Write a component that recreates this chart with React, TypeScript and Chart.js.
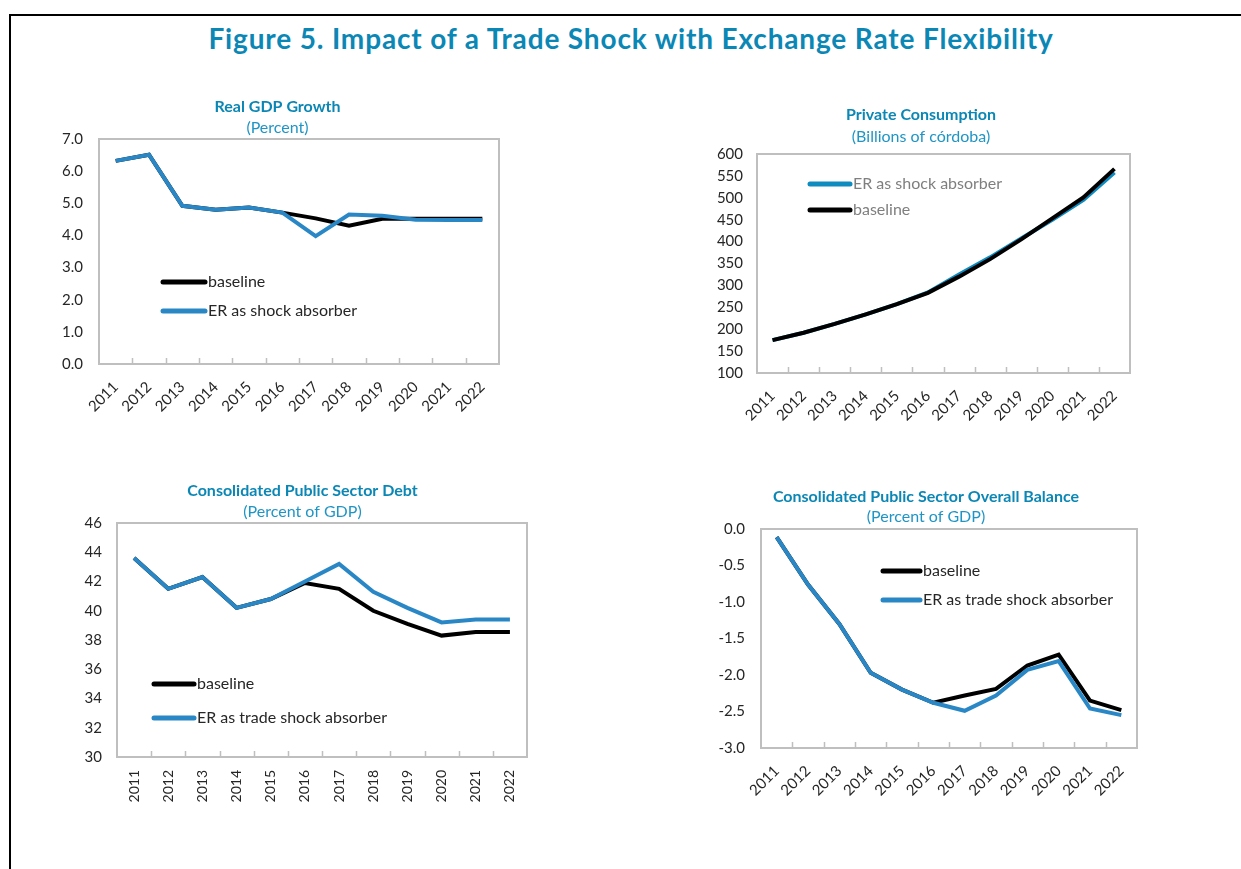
import React, { useEffect, useRef } from "react";
import { Chart, registerables } from "chart.js";

Chart.register(...registerables);

const years = ["2011", "2012", "2013", "2014", "2015", "2016", "2017", "2018", "2019", "2020", "2021", "2022"];

const gdpBaseline = [6.32, 6.51, 4.92, 4.8, 4.87, 4.71, 4.53, 4.3, 4.52, 4.52, 4.52, 4.52];
const gdpER = [6.32, 6.51, 4.92, 4.8, 4.87, 4.71, 3.98, 4.65, 4.61, 4.49, 4.48, 4.48];

const consBaseline = [175, 192, 212, 234, 257, 283, 320, 360, 405, 453, 501, 566];
const consER = [175, 192, 212, 234, 257, 284, 325, 364, 407, 450, 495, 558];

const debtBaseline = [43.6, 41.5, 42.3, 40.2, 40.8, 41.9, 41.5, 40.0, 39.1, 38.3, 38.55, 38.55];
const debtER = [43.6, 41.5, 42.3, 40.2, 40.8, 42.0, 43.2, 41.3, 40.2, 39.2, 39.4, 39.4];

const balBaseline = [-0.11, -0.76, -1.3, -1.97, -2.2, -2.38, -2.28, -2.19, -1.87, -1.72, -2.35, -2.48];
const balER = [-0.11, -0.76, -1.3, -1.97, -2.2, -2.38, -2.49, -2.28, -1.93, -1.81, -2.46, -2.55];

const FONT = "Lato, 'Open Sans', sans-serif";
const TITLE_COLOR = "#0b87b5";
const SUB_COLOR = "#1f95c5";
const BLUE = "#2a87c6";
const BLUE2 = "#0e8cc0";
const BLACK = "#000000";
const TICK_COLOR = "#262626";
const FRAME_COLOR = "#bfbfbf";

const decorPlugin = {
  id: "decor",
  beforeDatasetsDraw(chart: any) {
    const { ctx, chartArea } = chart;
    const { left, top, right, bottom } = chartArea;
    ctx.save();
    ctx.strokeStyle = FRAME_COLOR;
    ctx.lineWidth = 2;
    ctx.strokeRect(left, top, right - left, bottom - top);
    const xs = chart.scales.x;
    const n = chart.data.labels.length;
    ctx.lineWidth = 1.5;
    ctx.beginPath();
    for (let i = 1; i < n; i++) {
      const x = Math.round((xs.getPixelForTick(i - 1) + xs.getPixelForTick(i)) / 2) + 0.5;
      ctx.moveTo(x, bottom);
      ctx.lineTo(x, bottom - 6);
    }
    ctx.stroke();
    ctx.restore();
  },
  afterDraw(chart: any, _args: any, opts: any) {
    if (!opts || !opts.items) return;
    const { ctx, chartArea } = chart;
    ctx.save();
    ctx.font = `16px ${FONT}`;
    ctx.textBaseline = "middle";
    ctx.textAlign = "left";
    opts.items.forEach((it: any, i: number) => {
      const x0 = chartArea.left + opts.x;
      const y = chartArea.top + opts.ys[i];
      ctx.strokeStyle = it.color;
      ctx.lineWidth = 5;
      ctx.lineCap = "round";
      ctx.beginPath();
      ctx.moveTo(x0, y);
      ctx.lineTo(x0 + opts.w, y);
      ctx.stroke();
      ctx.fillStyle = opts.textColor;
      ctx.fillText(it.label, x0 + opts.w + 3, y);
    });
    ctx.restore();
  },
};

type PanelCfg = {
  left: number;
  top: number;
  width: number;
  height: number;
  yW: number;
  xH: number;
  padRight: number;
  title: string;
  subtitle: string;
  tb1: number;
  tb2: number;
  min: number;
  max: number;
  step: number;
  decimals: number;
  yPad: number;
  rotation: number;
  xPad: number;
  xFont: number;
  datasets: { label: string; data: number[]; color: string; order: number }[];
  legend: { x: number; ys: number[]; w: number; textColor: string; items: { label: string; color: string }[] };
};

const panels: PanelCfg[] = [
  {
    left: 56, top: 97, width: 454, height: 332, yW: 43, xH: 65, padRight: 11,
    title: "Real GDP Growth", subtitle: "(Percent)", tb1: 3, tb2: 2,
    min: 0, max: 7, step: 1, decimals: 1, yPad: 16, rotation: 45, xPad: 14, xFont: 15,
    datasets: [
      { label: "baseline", data: gdpBaseline, color: BLACK, order: 2 },
      { label: "ER as shock absorber", data: gdpER, color: BLUE, order: 1 },
    ],
    legend: { x: 64, ys: [143, 172], w: 42, textColor: TICK_COLOR, items: [
      { label: "baseline", color: BLACK },
      { label: "ER as shock absorber", color: BLUE },
    ] },
  },
  {
    left: 712, top: 105, width: 438, height: 333, yW: 45, xH: 65, padRight: 20,
    title: "Private Consumption", subtitle: "(Billions of córdoba)", tb1: 4, tb2: 8,
    min: 100, max: 600, step: 50, decimals: 0, yPad: 14, rotation: 45, xPad: 14, xFont: 15,
    datasets: [
      { label: "ER as shock absorber", data: consER, color: BLUE2, order: 2 },
      { label: "baseline", data: consBaseline, color: BLACK, order: 1 },
    ],
    legend: { x: 53, ys: [30, 56], w: 40, textColor: "#7f7f7f", items: [
      { label: "ER as shock absorber", color: BLUE2 },
      { label: "baseline", color: BLACK },
    ] },
  },
  {
    left: 78, top: 481, width: 452, height: 332, yW: 39, xH: 56, padRight: 3,
    title: "Consolidated Public Sector Debt", subtitle: "(Percent of GDP)", tb1: 3, tb2: 2,
    min: 30, max: 46, step: 2, decimals: 0, yPad: 15, rotation: 90, xPad: 13, xFont: 14,
    datasets: [
      { label: "baseline", data: debtBaseline, color: BLACK, order: 2 },
      { label: "ER as trade shock absorber", data: debtER, color: BLUE, order: 1 },
    ],
    legend: { x: 37, ys: [161, 195], w: 40, textColor: TICK_COLOR, items: [
      { label: "baseline", color: BLACK },
      { label: "ER as trade shock absorber", color: BLUE },
    ] },
  },
  {
    left: 715, top: 487, width: 432, height: 326, yW: 46, xH: 65, padRight: 10,
    title: "Consolidated Public Sector Overall Balance", subtitle: "(Percent of GDP)", tb1: 2, tb2: 3,
    min: -3, max: 0, step: 0.5, decimals: 1, yPad: 16, rotation: 45, xPad: 14, xFont: 15,
    datasets: [
      { label: "baseline", data: balBaseline, color: BLACK, order: 2 },
      { label: "ER as trade shock absorber", data: balER, color: BLUE, order: 1 },
    ],
    legend: { x: 122, ys: [42, 71], w: 37, textColor: TICK_COLOR, items: [
      { label: "baseline", color: BLACK },
      { label: "ER as trade shock absorber", color: BLUE },
    ] },
  },
];

function zeroPadding(s: any) {
  s.paddingLeft = 0;
  s.paddingRight = 0;
  s.paddingTop = 0;
  s.paddingBottom = 0;
}

function Panel({ cfg }: { cfg: PanelCfg }) {
  const ref = useRef<HTMLCanvasElement | null>(null);
  useEffect(() => {
    if (!ref.current) return;
    const chart = new Chart(ref.current, {
      type: "line",
      data: {
        labels: years,
        datasets: cfg.datasets.map((d) => ({
          label: d.label,
          data: d.data,
          borderColor: d.color,
          backgroundColor: d.color,
          borderWidth: 4,
          pointRadius: 0,
          tension: 0,
          fill: false,
          order: d.order,
        })),
      },
      options: {
        responsive: false,
        animation: false,
        layout: { padding: { left: 0, right: cfg.padRight, top: 0, bottom: 0 } },
        plugins: {
          legend: { display: false },
          tooltip: { enabled: false },
          title: {
            display: true,
            text: cfg.title,
            color: TITLE_COLOR,
            font: { family: FONT, size: 16, weight: "bold", lineHeight: "18px" } as any,
            padding: { top: 1, bottom: cfg.tb1 },
          },
          subtitle: {
            display: true,
            text: cfg.subtitle,
            color: SUB_COLOR,
            font: { family: FONT, size: 16, lineHeight: "18px" } as any,
            padding: { top: 0, bottom: cfg.tb2 },
          },
          decor: cfg.legend,
        } as any,
        scales: {
          x: {
            type: "category",
            offset: true,
            grid: { display: false, drawTicks: false },
            border: { display: false },
            ticks: {
              color: TICK_COLOR,
              font: { family: FONT, size: cfg.xFont },
              minRotation: cfg.rotation,
              maxRotation: cfg.rotation,
              padding: cfg.xPad,
              autoSkip: false,
            },
            afterFit: (s: any) => {
              s.height = cfg.xH;
              zeroPadding(s);
            },
          },
          y: {
            min: cfg.min,
            max: cfg.max,
            grid: { display: false, drawTicks: false },
            border: { display: false },
            ticks: {
              stepSize: cfg.step,
              color: TICK_COLOR,
              font: { family: FONT, size: 15 },
              padding: cfg.yPad,
              callback: (v: any) => Number(v).toFixed(cfg.decimals),
            },
            afterFit: (s: any) => {
              s.width = cfg.yW;
              zeroPadding(s);
            },
          },
        },
      } as any,
      plugins: [decorPlugin as any],
    });
    return () => chart.destroy();
  }, [cfg]);
  return (
    <div style={{ position: "absolute", left: cfg.left, top: cfg.top, width: cfg.width, height: cfg.height }}>
      <canvas ref={ref} width={cfg.width} height={cfg.height} style={{ width: cfg.width, height: cfg.height, display: "block" }} />
    </div>
  );
}

export default function App() {
  return (
    <div style={{ position: "absolute", left: 0, top: 0, width: 1241, height: 869, background: "#fff", overflow: "hidden" }}>
      <div style={{ position: "absolute", left: 9, top: 14, width: 1240, height: 860, borderTop: "2px solid #000", borderLeft: "2px solid #000" }} />
      <div
        style={{
          position: "absolute",
          left: 0,
          top: 22,
          width: 1262,
          textAlign: "center",
          fontFamily: FONT,
          fontWeight: "bold",
          fontSize: 28,
          letterSpacing: "0.85px",
          lineHeight: "32px",
          color: TITLE_COLOR,
        }}
      >
        Figure 5. Impact of a Trade Shock with Exchange Rate Flexibility
      </div>
      {panels.map((p, i) => (
        <Panel key={i} cfg={p} />
      ))}
    </div>
  );
}
